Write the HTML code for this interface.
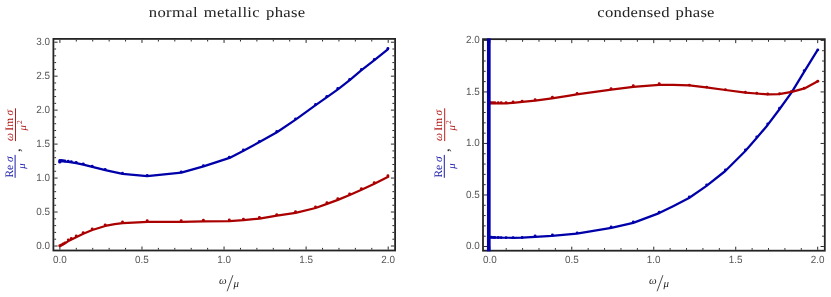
<!DOCTYPE html>
<html><head><meta charset="utf-8"><title>conductivity</title>
<style>html,body{margin:0;padding:0;background:#fff}svg{display:block;will-change:transform}</style>
</head><body>
<svg width="831" height="297" viewBox="0 0 831 297">
<style>
text{font-family:"Liberation Sans",sans-serif;text-rendering:geometricPrecision}
.tk{font-size:10.4px;fill:#555}
.ti{font-family:"Liberation Serif",serif;font-size:14.6px;fill:#222;word-spacing:1.3px}
.yl{font-family:"Liberation Serif",serif;font-size:11.4px}
.yd{font-family:"Liberation Serif",serif;font-size:10.6px}
.xl{font-family:"Liberation Serif",serif;font-size:10.8px;font-style:italic}
</style>
<rect width="831" height="297" fill="#fff"/>
<text transform="translate(148.8,17.3) scale(1.14,1)" class="ti" textLength="137.19" lengthAdjust="spacing">normal metallic phase</text>
<text transform="translate(597.3,17.3) scale(1.14,1)" class="ti" textLength="102.81" lengthAdjust="spacing">condensed phase</text>
<path d="M59.9 249.6v-3.1M59.9 39.8v3.1M76.31 249.6v-1.7M76.31 39.8v1.7M92.73 249.6v-1.7M92.73 39.8v1.7M109.15 249.6v-1.7M109.15 39.8v1.7M125.56 249.6v-1.7M125.56 39.8v1.7M141.97 249.6v-3.1M141.97 39.8v3.1M158.39 249.6v-1.7M158.39 39.8v1.7M174.81 249.6v-1.7M174.81 39.8v1.7M191.22 249.6v-1.7M191.22 39.8v1.7M207.64 249.6v-1.7M207.64 39.8v1.7M224.05 249.6v-3.1M224.05 39.8v3.1M240.47 249.6v-1.7M240.47 39.8v1.7M256.88 249.6v-1.7M256.88 39.8v1.7M273.3 249.6v-1.7M273.3 39.8v1.7M289.71 249.6v-1.7M289.71 39.8v1.7M306.12 249.6v-3.1M306.12 39.8v3.1M322.54 249.6v-1.7M322.54 39.8v1.7M338.95 249.6v-1.7M338.95 39.8v1.7M355.37 249.6v-1.7M355.37 39.8v1.7M371.78 249.6v-1.7M371.78 39.8v1.7M388.2 249.6v-3.1M388.2 39.8v3.1M54.3 246h3.3M394.2 246h-3.3M54.3 239.21h1.8M394.2 239.21h-1.8M54.3 232.41h1.8M394.2 232.41h-1.8M54.3 225.62h1.8M394.2 225.62h-1.8M54.3 218.83h1.8M394.2 218.83h-1.8M54.3 212.03h3.3M394.2 212.03h-3.3M54.3 205.24h1.8M394.2 205.24h-1.8M54.3 198.45h1.8M394.2 198.45h-1.8M54.3 191.66h1.8M394.2 191.66h-1.8M54.3 184.86h1.8M394.2 184.86h-1.8M54.3 178.07h3.3M394.2 178.07h-3.3M54.3 171.28h1.8M394.2 171.28h-1.8M54.3 164.48h1.8M394.2 164.48h-1.8M54.3 157.69h1.8M394.2 157.69h-1.8M54.3 150.9h1.8M394.2 150.9h-1.8M54.3 144.1h3.3M394.2 144.1h-3.3M54.3 137.31h1.8M394.2 137.31h-1.8M54.3 130.52h1.8M394.2 130.52h-1.8M54.3 123.73h1.8M394.2 123.73h-1.8M54.3 116.93h1.8M394.2 116.93h-1.8M54.3 110.14h3.3M394.2 110.14h-3.3M54.3 103.35h1.8M394.2 103.35h-1.8M54.3 96.55h1.8M394.2 96.55h-1.8M54.3 89.76h1.8M394.2 89.76h-1.8M54.3 82.97h1.8M394.2 82.97h-1.8M54.3 76.17h3.3M394.2 76.17h-3.3M54.3 69.38h1.8M394.2 69.38h-1.8M54.3 62.59h1.8M394.2 62.59h-1.8M54.3 55.8h1.8M394.2 55.8h-1.8M54.3 49h1.8M394.2 49h-1.8M54.3 42.21h3.3M394.2 42.21h-3.3" stroke="#2a2a2a" stroke-width="1" fill="none"/>
<rect x="53.4" y="38.9" width="341.7" height="211.6" fill="none" stroke="#242424" stroke-width="1.8"/>
<text x="59.9" y="262.8" text-anchor="middle" class="tk" textLength="13.76" lengthAdjust="spacingAndGlyphs">0.0</text>
<text x="141.97" y="262.8" text-anchor="middle" class="tk" textLength="13.76" lengthAdjust="spacingAndGlyphs">0.5</text>
<text x="224.05" y="262.8" text-anchor="middle" class="tk" textLength="13.76" lengthAdjust="spacingAndGlyphs">1.0</text>
<text x="306.12" y="262.8" text-anchor="middle" class="tk" textLength="13.76" lengthAdjust="spacingAndGlyphs">1.5</text>
<text x="388.2" y="262.8" text-anchor="middle" class="tk" textLength="13.76" lengthAdjust="spacingAndGlyphs">2.0</text>
<text x="50.1" y="248.6" text-anchor="end" class="tk" textLength="13.76" lengthAdjust="spacingAndGlyphs">0.0</text>
<text x="50.1" y="214.63" text-anchor="end" class="tk" textLength="13.76" lengthAdjust="spacingAndGlyphs">0.5</text>
<text x="50.1" y="180.67" text-anchor="end" class="tk" textLength="13.76" lengthAdjust="spacingAndGlyphs">1.0</text>
<text x="50.1" y="146.7" text-anchor="end" class="tk" textLength="13.76" lengthAdjust="spacingAndGlyphs">1.5</text>
<text x="50.1" y="112.74" text-anchor="end" class="tk" textLength="13.76" lengthAdjust="spacingAndGlyphs">2.0</text>
<text x="50.1" y="78.77" text-anchor="end" class="tk" textLength="13.76" lengthAdjust="spacingAndGlyphs">2.5</text>
<text x="50.1" y="44.81" text-anchor="end" class="tk" textLength="13.76" lengthAdjust="spacingAndGlyphs">3.0</text>
<path d="M59.6 161.3 L61.5 161.3 L63.2 161.4 L65 161.6 L68.4 162 L71.4 162.4 L76.3 163.1 L83.3 164.6 L92.3 166.9 L105.3 170.2 L122.6 173.9 L147.2 176.2 L181.3 172.6 L203.5 166.4 L229.5 157.9 L243.5 150.8 L259.5 142.1 L276.9 132.3 L295.6 119.6 L315.6 105.2 L327 97.1 L337.9 89.3 L349.7 80.2 L361.5 70.2 L374.4 60.2 L387.8 49.3" fill="none" stroke="#0000AA" stroke-width="2.25" stroke-linejoin="round" stroke-linecap="round"/>
<circle cx="59.8" cy="160.55" r="1.45" fill="#0000AA"/><circle cx="61.4" cy="160.55" r="1.45" fill="#0000AA"/><circle cx="63.1" cy="160.65" r="1.45" fill="#0000AA"/><circle cx="64.9" cy="160.85" r="1.45" fill="#0000AA"/><circle cx="68.3" cy="161.25" r="1.45" fill="#0000AA"/><circle cx="71.3" cy="161.65" r="1.45" fill="#0000AA"/><circle cx="76.2" cy="162.35" r="1.45" fill="#0000AA"/><circle cx="83.2" cy="163.85" r="1.45" fill="#0000AA"/><circle cx="92.2" cy="166.15" r="1.45" fill="#0000AA"/><circle cx="105.2" cy="169.45" r="1.45" fill="#0000AA"/><circle cx="122.5" cy="173.15" r="1.45" fill="#0000AA"/><circle cx="147.2" cy="175.44" r="1.45" fill="#0000AA"/><circle cx="181.2" cy="171.85" r="1.45" fill="#0000AA"/><circle cx="203.4" cy="165.65" r="1.45" fill="#0000AA"/><circle cx="229.3" cy="157.18" r="1.45" fill="#0000AA"/><circle cx="243.4" cy="150.05" r="1.45" fill="#0000AA"/><circle cx="259.4" cy="141.35" r="1.45" fill="#0000AA"/><circle cx="276.8" cy="131.55" r="1.45" fill="#0000AA"/><circle cx="295.5" cy="118.85" r="1.45" fill="#0000AA"/><circle cx="315.5" cy="104.45" r="1.45" fill="#0000AA"/><circle cx="326.9" cy="96.35" r="1.45" fill="#0000AA"/><circle cx="337.8" cy="88.55" r="1.45" fill="#0000AA"/><circle cx="349.6" cy="79.45" r="1.45" fill="#0000AA"/><circle cx="361.4" cy="69.45" r="1.45" fill="#0000AA"/><circle cx="374.3" cy="59.45" r="1.45" fill="#0000AA"/><circle cx="387.9" cy="48.55" r="1.45" fill="#0000AA"/>
<circle cx="59.7" cy="162.0" r="1.6" fill="#0000AA"/>
<path d="M59.9 246.1 L61.5 245.3 L63.2 244.3 L65 243.2 L68.4 241.1 L71.5 239.4 L76.6 236.9 L83.3 233.7 L92.3 230 L105.2 225.95 L114.7 224.1 L122.6 223.15 L138 222.3 L147.6 221.85 L181.5 221.85 L203.4 221.4 L229.5 221.1 L243.5 220.2 L259.5 218.6 L276.9 215.7 L295.6 212.8 L315.6 208 L327 203.9 L337.9 199.9 L349.7 195 L361.5 189.7 L374.4 183.7 L388.2 176.8" fill="none" stroke="#AA0000" stroke-width="2.25" stroke-linejoin="round" stroke-linecap="round"/>
<circle cx="59.8" cy="245.8" r="1.45" fill="#AA0000"/><circle cx="61.4" cy="245" r="1.45" fill="#AA0000"/><circle cx="63.1" cy="244" r="1.45" fill="#AA0000"/><circle cx="64.9" cy="242.9" r="1.45" fill="#AA0000"/><circle cx="68.3" cy="240" r="1.45" fill="#AA0000"/><circle cx="71.3" cy="238.35" r="1.45" fill="#AA0000"/><circle cx="76.2" cy="235.95" r="1.45" fill="#AA0000"/><circle cx="83.2" cy="232.6" r="1.45" fill="#AA0000"/><circle cx="92.2" cy="228.9" r="1.45" fill="#AA0000"/><circle cx="105.2" cy="224.83" r="1.45" fill="#AA0000"/><circle cx="122.5" cy="222.05" r="1.45" fill="#AA0000"/><circle cx="147.2" cy="220.76" r="1.45" fill="#AA0000"/><circle cx="181.2" cy="220.75" r="1.45" fill="#AA0000"/><circle cx="203.4" cy="220.3" r="1.45" fill="#AA0000"/><circle cx="229.3" cy="220" r="1.45" fill="#AA0000"/><circle cx="243.4" cy="219.1" r="1.45" fill="#AA0000"/><circle cx="259.4" cy="217.5" r="1.45" fill="#AA0000"/><circle cx="276.8" cy="214.6" r="1.45" fill="#AA0000"/><circle cx="295.5" cy="211.7" r="1.45" fill="#AA0000"/><circle cx="315.5" cy="206.9" r="1.45" fill="#AA0000"/><circle cx="326.9" cy="202.8" r="1.45" fill="#AA0000"/><circle cx="337.8" cy="198.8" r="1.45" fill="#AA0000"/><circle cx="349.6" cy="193.9" r="1.45" fill="#AA0000"/><circle cx="361.4" cy="188.6" r="1.45" fill="#AA0000"/><circle cx="374.3" cy="182.6" r="1.45" fill="#AA0000"/><circle cx="387.9" cy="175.8" r="1.45" fill="#AA0000"/>
<path d="M489.8 249.8v-3.1M489.8 40.05v3.1M506.19 249.8v-1.7M506.19 40.05v1.7M522.59 249.8v-1.7M522.59 40.05v1.7M538.99 249.8v-1.7M538.99 40.05v1.7M555.38 249.8v-1.7M555.38 40.05v1.7M571.77 249.8v-3.1M571.77 40.05v3.1M588.17 249.8v-1.7M588.17 40.05v1.7M604.57 249.8v-1.7M604.57 40.05v1.7M620.96 249.8v-1.7M620.96 40.05v1.7M637.36 249.8v-1.7M637.36 40.05v1.7M653.75 249.8v-3.1M653.75 40.05v3.1M670.14 249.8v-1.7M670.14 40.05v1.7M686.54 249.8v-1.7M686.54 40.05v1.7M702.93 249.8v-1.7M702.93 40.05v1.7M719.33 249.8v-1.7M719.33 40.05v1.7M735.73 249.8v-3.1M735.73 40.05v3.1M752.12 249.8v-1.7M752.12 40.05v1.7M768.51 249.8v-1.7M768.51 40.05v1.7M784.91 249.8v-1.7M784.91 40.05v1.7M801.31 249.8v-1.7M801.31 40.05v1.7M817.7 249.8v-3.1M817.7 40.05v3.1M483.9 246.5h3.3M823.9 246.5h-3.3M483.9 236.19h1.8M823.9 236.19h-1.8M483.9 225.89h1.8M823.9 225.89h-1.8M483.9 215.59h1.8M823.9 215.59h-1.8M483.9 205.28h1.8M823.9 205.28h-1.8M483.9 194.97h3.3M823.9 194.97h-3.3M483.9 184.67h1.8M823.9 184.67h-1.8M483.9 174.37h1.8M823.9 174.37h-1.8M483.9 164.06h1.8M823.9 164.06h-1.8M483.9 153.75h1.8M823.9 153.75h-1.8M483.9 143.45h3.3M823.9 143.45h-3.3M483.9 133.15h1.8M823.9 133.15h-1.8M483.9 122.84h1.8M823.9 122.84h-1.8M483.9 112.54h1.8M823.9 112.54h-1.8M483.9 102.23h1.8M823.9 102.23h-1.8M483.9 91.93h3.3M823.9 91.93h-3.3M483.9 81.62h1.8M823.9 81.62h-1.8M483.9 71.31h1.8M823.9 71.31h-1.8M483.9 61.01h1.8M823.9 61.01h-1.8M483.9 50.7h1.8M823.9 50.7h-1.8M483.9 40.4h3.3M823.9 40.4h-3.3" stroke="#2a2a2a" stroke-width="1" fill="none"/>
<rect x="483" y="39.15" width="341.8" height="211.55" fill="none" stroke="#242424" stroke-width="1.8"/>
<text x="489.8" y="263" text-anchor="middle" class="tk" textLength="13.76" lengthAdjust="spacingAndGlyphs">0.0</text>
<text x="571.77" y="263" text-anchor="middle" class="tk" textLength="13.76" lengthAdjust="spacingAndGlyphs">0.5</text>
<text x="653.75" y="263" text-anchor="middle" class="tk" textLength="13.76" lengthAdjust="spacingAndGlyphs">1.0</text>
<text x="735.73" y="263" text-anchor="middle" class="tk" textLength="13.76" lengthAdjust="spacingAndGlyphs">1.5</text>
<text x="817.7" y="263" text-anchor="middle" class="tk" textLength="13.76" lengthAdjust="spacingAndGlyphs">2.0</text>
<text x="479.7" y="249.1" text-anchor="end" class="tk" textLength="13.76" lengthAdjust="spacingAndGlyphs">0.0</text>
<text x="479.7" y="197.57" text-anchor="end" class="tk" textLength="13.76" lengthAdjust="spacingAndGlyphs">0.5</text>
<text x="479.7" y="146.05" text-anchor="end" class="tk" textLength="13.76" lengthAdjust="spacingAndGlyphs">1.0</text>
<text x="479.7" y="94.53" text-anchor="end" class="tk" textLength="13.76" lengthAdjust="spacingAndGlyphs">1.5</text>
<text x="479.7" y="43" text-anchor="end" class="tk" textLength="13.76" lengthAdjust="spacingAndGlyphs">2.0</text>
<path d="M489.8 237.4 L491.5 237.4 L493.2 237.5 L495 237.5 L500.7 237.7 L506.3 237.75 L512.9 237.75 L522.3 237.6 L535.2 236.8 L551.9 235.8 L576.8 233.7 L611.3 227.8 L633.2 222.9 L659.2 213.1 L673.1 206.2 L689 198 L706.2 186.1 L725.3 171 L745.1 151.3 L756.2 138.5 L767.3 125.4 L779.1 109.7 L791.8 92.1 L804.1 71.8 L817.2 50.7" fill="none" stroke="#0000AA" stroke-width="2.25" stroke-linejoin="round" stroke-linecap="round"/>
<circle cx="489.7" cy="237.3" r="1.45" fill="#0000AA"/><circle cx="491.3" cy="237.3" r="1.45" fill="#0000AA"/><circle cx="493" cy="237.39" r="1.45" fill="#0000AA"/><circle cx="494.8" cy="237.4" r="1.45" fill="#0000AA"/><circle cx="498.2" cy="237.52" r="1.45" fill="#0000AA"/><circle cx="501.2" cy="237.61" r="1.45" fill="#0000AA"/><circle cx="506.1" cy="237.65" r="1.45" fill="#0000AA"/><circle cx="513.1" cy="237.65" r="1.45" fill="#0000AA"/><circle cx="522.1" cy="237.5" r="1.45" fill="#0000AA"/><circle cx="535.1" cy="236" r="1.45" fill="#0000AA"/><circle cx="552.4" cy="234.95" r="1.45" fill="#0000AA"/><circle cx="577.1" cy="232.83" r="1.45" fill="#0000AA"/><circle cx="611.1" cy="227.02" r="1.45" fill="#0000AA"/><circle cx="633.3" cy="222.02" r="1.45" fill="#0000AA"/><circle cx="659.2" cy="212.25" r="1.45" fill="#0000AA"/><circle cx="689.3" cy="196.92" r="1.45" fill="#0000AA"/><circle cx="706.7" cy="184.83" r="1.45" fill="#0000AA"/><circle cx="725.4" cy="170" r="1.45" fill="#0000AA"/><circle cx="745.4" cy="150.04" r="1.45" fill="#0000AA"/><circle cx="756.8" cy="136.87" r="1.45" fill="#0000AA"/><circle cx="767.7" cy="123.93" r="1.45" fill="#0000AA"/><circle cx="779.5" cy="108.21" r="1.45" fill="#0000AA"/><circle cx="791.3" cy="91.85" r="1.45" fill="#0000AA"/><circle cx="804.2" cy="70.68" r="1.45" fill="#0000AA"/><circle cx="817.8" cy="49.9" r="1.45" fill="#0000AA"/>
<path d="M489.8 103.4 L495 103.4 L500.7 103.45 L506.3 103.3 L512.9 102.8 L522.3 101.9 L535.2 100.7 L551.9 98.3 L568 95.9 L576.8 94.45 L611.3 89.7 L633.2 86.8 L659.2 84.8 L673.1 84.9 L689.4 85.4 L706.1 87.3 L725.5 90 L745.5 92.6 L756.2 93.5 L767.3 94.35 L779.1 94.1 L791.8 91.9 L804.5 88.4 L817.3 81.5" fill="none" stroke="#AA0000" stroke-width="2.25" stroke-linejoin="round" stroke-linecap="round"/>
<circle cx="489.7" cy="102.7" r="1.45" fill="#AA0000"/><circle cx="491.3" cy="102.7" r="1.45" fill="#AA0000"/><circle cx="493" cy="102.7" r="1.45" fill="#AA0000"/><circle cx="494.8" cy="102.7" r="1.45" fill="#AA0000"/><circle cx="498.2" cy="102.73" r="1.45" fill="#AA0000"/><circle cx="501.2" cy="102.73" r="1.45" fill="#AA0000"/><circle cx="506.1" cy="102.6" r="1.45" fill="#AA0000"/><circle cx="513.1" cy="102.07" r="1.45" fill="#AA0000"/><circle cx="522.1" cy="101.21" r="1.45" fill="#AA0000"/><circle cx="535.1" cy="99.7" r="1.45" fill="#AA0000"/><circle cx="552.4" cy="97.21" r="1.45" fill="#AA0000"/><circle cx="577.1" cy="93.39" r="1.45" fill="#AA0000"/><circle cx="611.1" cy="88.71" r="1.45" fill="#AA0000"/><circle cx="633.3" cy="85.78" r="1.45" fill="#AA0000"/><circle cx="659.2" cy="83.8" r="1.45" fill="#AA0000"/><circle cx="689.3" cy="85.1" r="1.45" fill="#AA0000"/><circle cx="706.7" cy="87.1" r="1.45" fill="#AA0000"/><circle cx="725.4" cy="89.7" r="1.45" fill="#AA0000"/><circle cx="745.4" cy="92.3" r="1.45" fill="#AA0000"/><circle cx="756.8" cy="93.25" r="1.45" fill="#AA0000"/><circle cx="767.7" cy="94.04" r="1.45" fill="#AA0000"/><circle cx="779.5" cy="93.71" r="1.45" fill="#AA0000"/><circle cx="791.3" cy="91.67" r="1.45" fill="#AA0000"/><circle cx="804.2" cy="88.16" r="1.45" fill="#AA0000"/><circle cx="817.8" cy="81.2" r="1.45" fill="#AA0000"/>
<rect x="486.95" y="38.4" width="3.7" height="212.9" fill="#0000AA"/>
<g transform="translate(0,0)">
<line x1="15.1" y1="154.9" x2="15.1" y2="177.8" stroke="#1c1cac" stroke-width="1"/>
<text transform="translate(13.1,177.6) rotate(-90)" class="yl" fill="#1212a8">Re<tspan dx="2.9" font-style="italic">σ</tspan></text>
<text transform="translate(25.4,166.0) rotate(-90)" text-anchor="middle" class="yd" fill="#1212a8" font-style="italic">μ</text>
<text transform="translate(20.0,152.0) rotate(-90)" class="yl" style="font-size:14.5px" fill="#222">,</text>
<line x1="15.5" y1="108.3" x2="15.5" y2="141.1" stroke="#b52020" stroke-width="1"/>
<text transform="translate(13.2,141.0) rotate(-90)" class="yl" fill="#b01414"><tspan font-style="italic">ω</tspan><tspan dx="2.3">Im</tspan><tspan dx="2.4" font-style="italic">σ</tspan></text>
<text transform="translate(25.5,130.6) rotate(-90)" class="yd" fill="#b01414"><tspan font-style="italic">μ</tspan><tspan dx="1.2" dy="-3.9" font-size="7.6">2</tspan></text>
</g>
<g transform="translate(429.2,0)">
<line x1="15.1" y1="154.9" x2="15.1" y2="177.8" stroke="#1c1cac" stroke-width="1"/>
<text transform="translate(13.1,177.6) rotate(-90)" class="yl" fill="#1212a8">Re<tspan dx="2.9" font-style="italic">σ</tspan></text>
<text transform="translate(25.4,166.0) rotate(-90)" text-anchor="middle" class="yd" fill="#1212a8" font-style="italic">μ</text>
<text transform="translate(20.0,152.0) rotate(-90)" class="yl" style="font-size:14.5px" fill="#222">,</text>
<line x1="15.5" y1="108.3" x2="15.5" y2="141.1" stroke="#b52020" stroke-width="1"/>
<text transform="translate(13.2,141.0) rotate(-90)" class="yl" fill="#b01414"><tspan font-style="italic">ω</tspan><tspan dx="2.3">Im</tspan><tspan dx="2.4" font-style="italic">σ</tspan></text>
<text transform="translate(25.5,130.6) rotate(-90)" class="yd" fill="#b01414"><tspan font-style="italic">μ</tspan><tspan dx="1.2" dy="-3.9" font-size="7.6">2</tspan></text>
</g>
<g transform="translate(0,0)" fill="#222">
<text x="222.7" y="283.9" text-anchor="middle" class="xl">ω</text>
<line x1="227.1" y1="291.3" x2="232.9" y2="275.2" stroke="#222" stroke-width="0.8"/>
<text x="236.3" y="287.2" text-anchor="middle" class="xl">μ</text>
</g>
<g transform="translate(430,0)" fill="#222">
<text x="222.7" y="283.9" text-anchor="middle" class="xl">ω</text>
<line x1="227.1" y1="291.3" x2="232.9" y2="275.2" stroke="#222" stroke-width="0.8"/>
<text x="236.3" y="287.2" text-anchor="middle" class="xl">μ</text>
</g>
</svg>
</body></html>
